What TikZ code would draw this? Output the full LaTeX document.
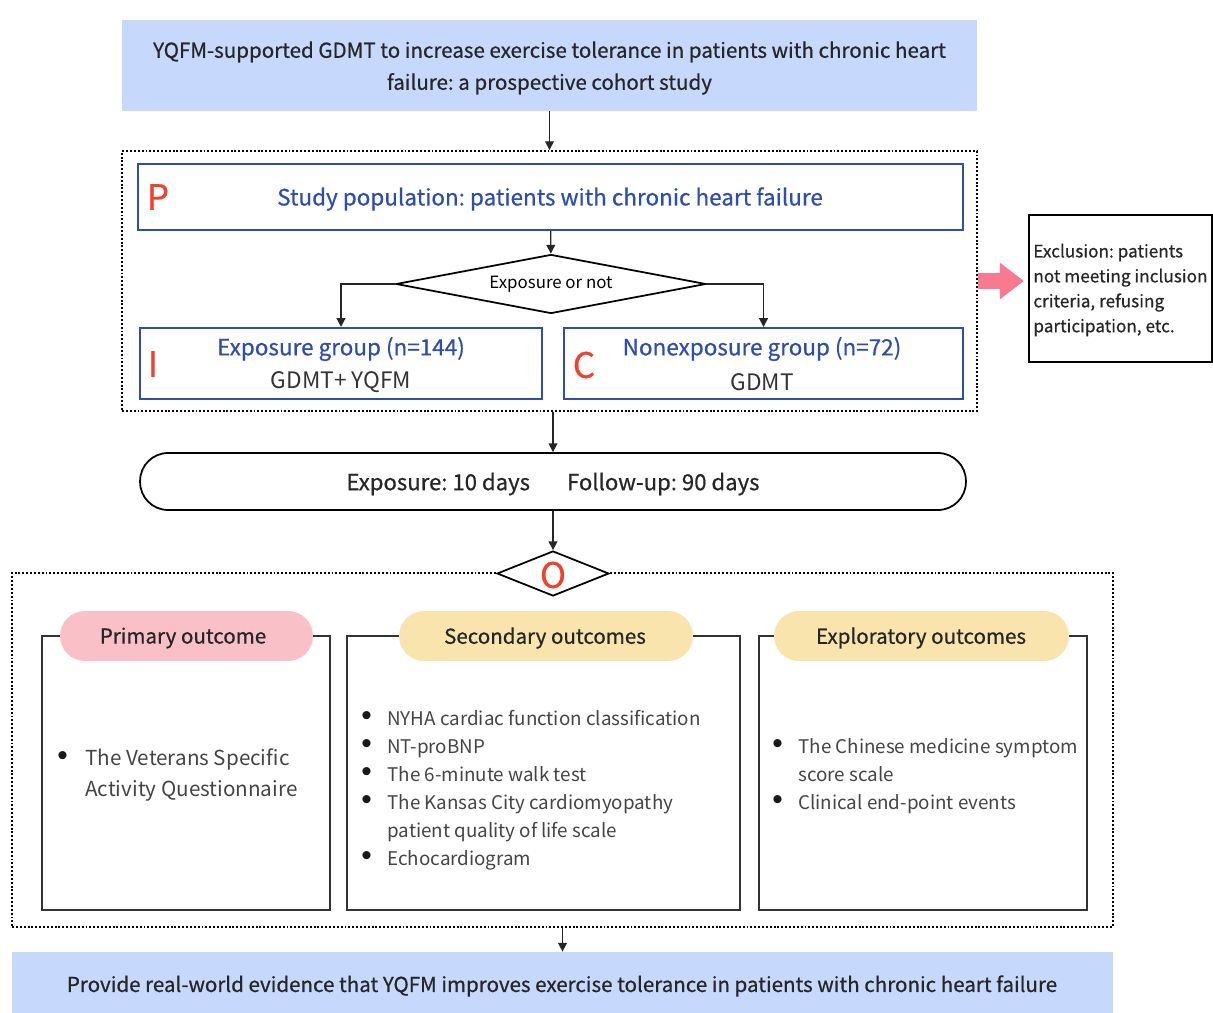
\documentclass[tikz,border=0pt]{standalone}
\usepackage{fontspec}
\setmainfont{Noto Sans CJK SC}
\newfontfamily\medfont[FakeBold=0.6]{Noto Sans CJK SC}
\newfontfamily\bulletfont{Liberation Sans}
\usetikzlibrary{positioning,shapes.geometric,arrows.meta}
\frenchspacing

\definecolor{titleblue}{HTML}{C6D9FD}
\definecolor{picoblue}{HTML}{2D4DB0}
\definecolor{picored}{HTML}{F0412F}
\definecolor{exclpink}{HTML}{F97A8F}
\definecolor{pinkpill}{HTML}{F9C0C8}
\definecolor{yellowpill}{HTML}{FAE4AE}
\definecolor{listgray}{HTML}{444444}

\newcommand{\bul}[1]{\makebox[#1][l]{{\bulletfont\fontsize{17}{14}\selectfont\textcolor{black!90}{\textbullet}}}}

\begin{document}
\begin{tikzpicture}[x=0.02cm,y=-0.02cm,
	titlebox/.style={fill=titleblue,inner sep=0pt,align=center,text=black!85},
	framebox/.style={draw,line width=1.1pt,dash pattern=on 1.1pt off 1.1pt,inner sep=0pt},
	picobox/.style={draw=picoblue,line width=1.2pt,inner sep=0pt,minimum height=1.42cm},
	picoletter/.style={text=picored,font=\medfont\fontsize{20}{20}\selectfont,inner sep=0pt},
	bluetext/.style={text=picoblue,font=\medfont\fontsize{12.8}{14}\selectfont,inner sep=0pt},
	choicebox/.style={diamond,draw,line width=1pt,fill=white,inner sep=0pt},
	outbox/.style={draw=black!80,line width=1.2pt,inner sep=0pt,minimum height=5.48cm},
	headpill/.style={rounded corners=0.5cm,inner sep=0pt,minimum height=1cm,font=\medfont\fontsize{11.7}{14}\selectfont,text=black!85},
	itemlist/.style={anchor=west,align=left,inner sep=0pt,text=listgray},
	arr/.style={-{Triangle[length=5pt,width=5pt]},line width=0.8pt,black!85}]
	\useasboundingbox (0,0) rectangle (1213,1013);

	% title and P, I, C
	\node[titlebox,minimum width=17.1cm,minimum height=1.82cm] (title) at (549.5,65.5) {};
	\node[align=center,inner sep=0pt,text=black!85,font=\medfont\fontsize{11.7}{18.2}\selectfont] (titletext) at (549.5,68)
		{YQFM-supported GDMT to increase exercise tolerance in patients with chronic heart\\failure: a prospective cohort study};
	\node[framebox,minimum width=17.1cm,minimum height=5.2cm] (frameA) at (549.5,281) {};
	\node[picobox,minimum width=16.5cm,minimum height=1.32cm] (pop) at (550.5,197) {};
	\node[bluetext] (poptext) at (550,199) {Study population: patients with chronic heart failure};
	\node[picoletter] (P) at (158,197) {P};
	\node[choicebox,aspect=5.2,minimum width=6.2cm,minimum height=1.18cm,font=\fontsize{9.6}{12}\selectfont] (choice) at (551,284) {Exposure or not};

	\node[picobox,minimum width=8.04cm] (expo) at (341,363.5) {};
	\node[bluetext] (expotext) at (341,349) {Exposure group (n=144)};
	\node[text=black!80,font=\fontsize{12.9}{14}\selectfont,inner sep=0pt] (expodrug) at (341,382) {GDMT+ YQFM};
	\node[picoletter] (I) at (153,364) {I};

	\node[picobox,minimum width=7.98cm] (nonexpo) at (763.5,363.5) {};
	\node[bluetext] (nonexpotext) at (762,349) {Nonexposure group (n=72)};
	\node[text=black!80,font=\fontsize{12.9}{14}\selectfont,inner sep=0pt] (nonexpodrug) at (762,382) {GDMT};
	\node[picoletter] (C) at (584,365) {C};

	% exclusion
	\node[draw,line width=1.2pt,minimum width=3.66cm,minimum height=2.94cm,inner sep=0pt] (excl) at (1120.5,288.5) {};
	\node[anchor=west,align=left,inner sep=0pt,font=\medfont\fontsize{9.8}{14.2}\selectfont,text=black!85] (excltext) at (1033,290)
		{Exclusion: patients\\not meeting inclusion\\criteria, refusing\\participation, etc.};

	% exposure period
	\node[draw,line width=1pt,rounded corners=0.56cm,minimum width=16.52cm,minimum height=1.14cm,inner sep=0pt] (period) at (553,481.5) {};
	\node[inner sep=0pt,font=\medfont\fontsize{12.6}{14}\selectfont,text=black!85] (periodtext) at (553,484)
		{Exposure: 10 days\hspace{0.74cm}Follow-up: 90 days};

	% outcomes
	\node[framebox,minimum width=22.02cm,minimum height=7.08cm] (frameB) at (562.5,750) {};
	\node[choicebox,aspect=2.5,minimum width=2.24cm,minimum height=0.9cm] (O) at (553,573.5) {};
	\node[picoletter] (Oletter) at (553,575) {O};

	\node[outbox,minimum width=5.76cm] (primary) at (186,773) {};
	\node[outbox,minimum width=7.86cm] (secondary) at (543.5,773) {};
	\node[outbox,minimum width=6.56cm] (explor) at (923,773) {};
	\node[headpill,fill=pinkpill,minimum width=5.06cm] (primhead) at (186.5,636) {};
	\node[headpill,fill=yellowpill,minimum width=5.88cm] (sechead) at (546,636) {};
	\node[headpill,fill=yellowpill,minimum width=5.9cm] (explhead) at (921.5,636) {};
	\node[headpill] (primtext) at (183,638) {Primary outcome};
	\node[headpill] (sectext) at (545,638) {Secondary outcomes};
	\node[headpill] (expltext) at (921,638) {Exploratory outcomes};

	\node[itemlist,font=\fontsize{11.75}{17.6}\selectfont] (primlist) at (57,775.5)
		{\bul{0.56cm}The Veterans Specific\\\hspace*{0.56cm}Activity Questionnaire};
	\node[itemlist,font=\fontsize{10.7}{15.9}\selectfont] (seclist) at (361,790)
		{\bul{0.52cm}NYHA cardiac function classification\\
		 \bul{0.52cm}NT-proBNP\\
		 \bul{0.52cm}The 6-minute walk test\\
		 \bul{0.52cm}The Kansas City cardiomyopathy\\
		 \hspace*{0.52cm}patient quality of life scale\\
		 \bul{0.52cm}Echocardiogram};
	\node[itemlist,font=\fontsize{10.7}{15.9}\selectfont] (expllist) at (772,776)
		{\bul{0.52cm}The Chinese medicine symptom\\
		 \hspace*{0.52cm}score scale\\
		 \bul{0.52cm}Clinical end-point events};

	% conclusion
	\node[titlebox,minimum width=22.02cm,minimum height=1.22cm] (evidence) at (562.5,982.5) {};
	\node[inner sep=0pt,text=black!85,font=\medfont\fontsize{11.7}{14}\selectfont] (evidencetext) at (562,986)
		{Provide real-world evidence that YQFM improves exercise tolerance in patients with chronic heart failure};

	% connectors
	\draw[arr] (title) -- (frameA);
	\draw[arr] (pop) -- (choice);
	\draw[line width=0.8pt,black!85,-{Triangle[length=5pt,width=5pt]}] (choice.west) -| (expo.north);
	\draw[line width=0.8pt,black!85,-{Triangle[length=5pt,width=5pt]}] (choice.east) -| (nonexpo.north);
	\draw[arr] (period.north |- frameA.south) -- (period.north);
	\draw[arr] (period) -- (O);
	\draw[arr] (frameB) -- (evidence);
	\draw[exclpink,line width=0.32cm,shorten >=2.3pt,-{Triangle[length=0.48cm,width=0.7cm]}] (frameA.east) -- (frameA.east -| excl.west);
\end{tikzpicture}
\end{document}
